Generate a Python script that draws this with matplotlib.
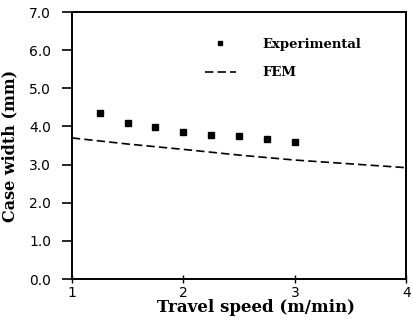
import matplotlib
matplotlib.use("Agg")
import matplotlib.pyplot as plt

# --- Data ---
exp_speed = [1.25, 1.5, 1.75, 2.0, 2.25, 2.5, 2.75, 3.0]
exp_width = [4.36, 4.09, 3.99, 3.86, 3.78, 3.75, 3.67, 3.60]

fem_speed = [1.0, 1.5, 2.0, 2.5, 3.0, 3.5, 4.0]
fem_width = [3.70, 3.54, 3.40, 3.25, 3.12, 3.02, 2.92]

yticks = [0.0, 1.0, 2.0, 3.0, 4.0, 5.0, 6.0, 7.0]
xticks = [1, 2, 3, 4]

fig = plt.figure(figsize=(4.13, 3.26), dpi=100)
ax = fig.add_axes([0.174, 0.144, 0.810, 0.819])

ax.plot(exp_speed, exp_width, linestyle="none", marker="s", markersize=4,
        color="black", label="Experimental")
ax.plot(fem_speed, fem_width, linestyle=(0, (5, 2.5)), linewidth=1.2,
        color="black", label="FEM")

ax.set_xlim(1, 4)
ax.set_ylim(0, 7)
ax.set_xticks(xticks)
ax.set_yticks(yticks)
ax.set_yticklabels([f"{v:.1f}" for v in yticks])

for s in ax.spines.values():
    s.set_linewidth(1.4)

ax.tick_params(axis="y", direction="out", length=7, width=1.2, labelsize=10, pad=8)
ax.tick_params(axis="x", direction="inout", length=6, width=1.0, labelsize=10, pad=2)

ax.set_xlabel("Travel speed (m/min)", family="DejaVu Serif", fontweight="bold",
              fontsize=12)
ax.xaxis.set_label_coords(0.55, -0.075)
ax.set_ylabel("Case width (mm)", family="DejaVu Serif", fontweight="bold",
              fontsize=11.5)
ax.yaxis.set_label_coords(-0.16, 0.5)

leg = ax.legend(loc="upper left", bbox_to_anchor=(0.361, 0.949), frameon=False,
                handlelength=2.35, handletextpad=2.0, labelspacing=1.2,
                markerscale=0.8,
                prop={"family": "DejaVu Serif", "weight": "bold", "size": 9.5})

fig.savefig("out.png", dpi=100)
